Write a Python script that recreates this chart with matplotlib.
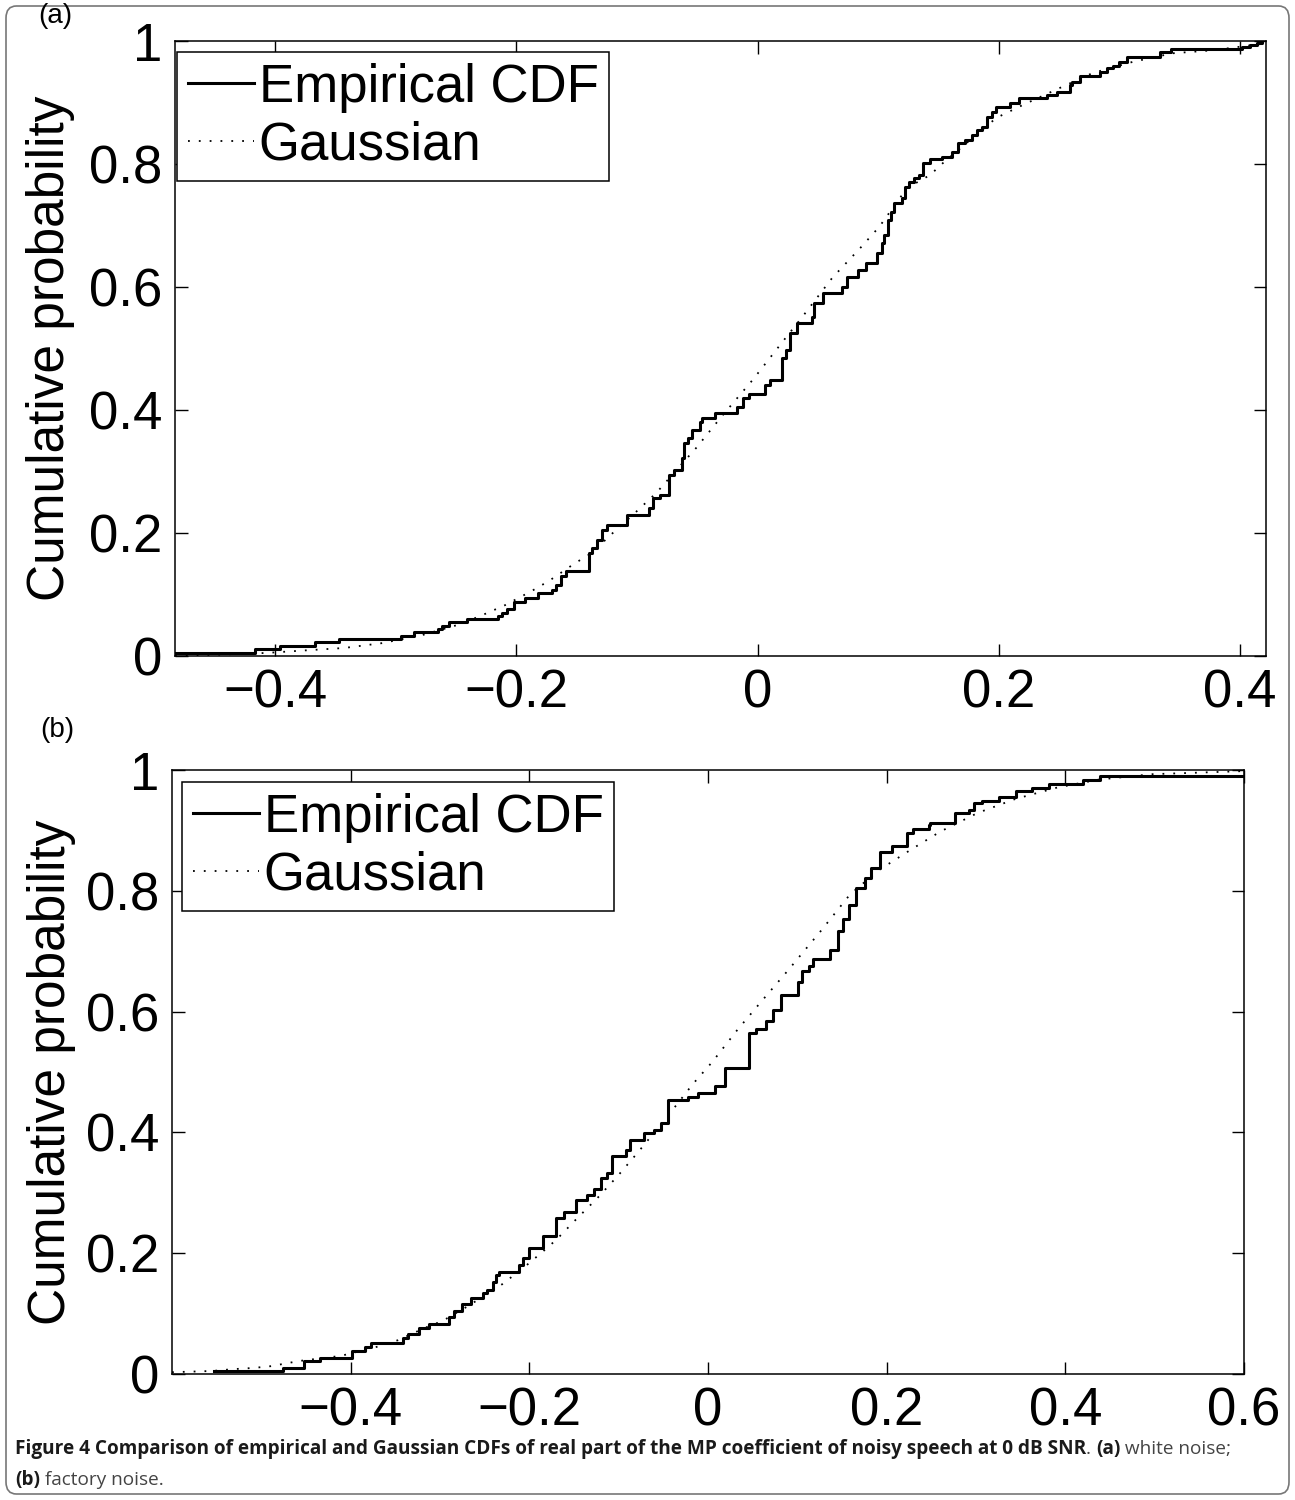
import matplotlib
matplotlib.use('Agg')
import matplotlib.pyplot as plt
from matplotlib import font_manager
from matplotlib.patches import FancyBboxPatch

# ---- panel (a): white noise ----
a_ecdf_x = [-0.483, -0.417, -0.396, -0.367, -0.347, -0.296, -0.285, -0.265, -0.262, -0.256,
            -0.241, -0.215, -0.212, -0.208, -0.202, -0.193, -0.182, -0.170, -0.167, -0.163,
            -0.159, -0.140, -0.137, -0.133, -0.129, -0.125, -0.108, -0.090, -0.087, -0.081,
            -0.073, -0.069, -0.063, -0.061, -0.058, -0.054, -0.048, -0.046, -0.035, -0.017,
            -0.012, -0.007, 0.006, 0.010, 0.020, 0.024, 0.027, 0.033, 0.045, 0.047,
            0.054, 0.070, 0.074, 0.083, 0.090, 0.099, 0.103, 0.105, 0.108, 0.111,
            0.113, 0.120, 0.122, 0.126, 0.130, 0.134, 0.137, 0.143, 0.153, 0.161,
            0.166, 0.172, 0.178, 0.182, 0.186, 0.190, 0.194, 0.198, 0.209, 0.217,
            0.240, 0.248, 0.259, 0.261, 0.267, 0.284, 0.290, 0.295, 0.300, 0.306,
            0.334, 0.343, 0.402, 0.408, 0.414, 0.418]
a_ecdf_y = [0.005, 0.011, 0.016, 0.022, 0.028, 0.033, 0.039, 0.044, 0.049, 0.055,
            0.060, 0.065, 0.070, 0.076, 0.088, 0.094, 0.102, 0.107, 0.115, 0.130,
            0.139, 0.168, 0.176, 0.189, 0.205, 0.213, 0.229, 0.241, 0.257, 0.262,
            0.294, 0.302, 0.322, 0.346, 0.354, 0.367, 0.380, 0.387, 0.395, 0.405,
            0.420, 0.426, 0.440, 0.449, 0.485, 0.497, 0.525, 0.541, 0.551, 0.574,
            0.590, 0.600, 0.616, 0.628, 0.639, 0.655, 0.672, 0.685, 0.709, 0.722,
            0.737, 0.745, 0.763, 0.771, 0.777, 0.782, 0.802, 0.808, 0.811, 0.820,
            0.834, 0.839, 0.847, 0.855, 0.860, 0.876, 0.884, 0.893, 0.899, 0.907,
            0.912, 0.917, 0.928, 0.933, 0.943, 0.950, 0.956, 0.959, 0.966, 0.974,
            0.982, 0.987, 0.990, 0.993, 0.997, 1.000]
a_gauss_x = [-0.483, -0.450, -0.407, -0.376, -0.343, -0.311, -0.278, -0.246, -0.224, -0.209,
             -0.187, -0.173, -0.152, -0.138, -0.120, -0.102, -0.084, -0.062, -0.051, -0.030,
             -0.004, 0.022, 0.037, 0.062, 0.085, 0.101, 0.124, 0.143, 0.154, 0.198,
             0.220, 0.251, 0.278, 0.311, 0.344, 0.378, 0.417]
a_gauss_y = [0.001, 0.002, 0.005, 0.009, 0.013, 0.021, 0.034, 0.052, 0.070, 0.083,
             0.106, 0.122, 0.150, 0.167, 0.200, 0.232, 0.265, 0.314, 0.338, 0.389,
             0.449, 0.514, 0.551, 0.615, 0.663, 0.698, 0.761, 0.782, 0.802, 0.875,
             0.896, 0.924, 0.948, 0.966, 0.980, 0.985, 0.995]

# ---- panel (b): factory noise ----
b_ecdf_x = [-0.553, -0.476, -0.452, -0.434, -0.399, -0.398, -0.384, -0.377, -0.341, -0.336,
            -0.323, -0.312, -0.290, -0.284, -0.275, -0.265, -0.252, -0.247, -0.241, -0.237,
            -0.234, -0.212, -0.207, -0.200, -0.185, -0.170, -0.161, -0.148, -0.135, -0.128,
            -0.120, -0.113, -0.107, -0.092, -0.087, -0.072, -0.061, -0.053, -0.045, -0.022,
            -0.011, 0.008, 0.019, 0.046, 0.054, 0.065, 0.073, 0.082, 0.101, 0.105,
            0.113, 0.118, 0.137, 0.145, 0.151, 0.158, 0.166, 0.176, 0.183, 0.193,
            0.206, 0.223, 0.229, 0.247, 0.249, 0.277, 0.292, 0.298, 0.307, 0.326,
            0.345, 0.363, 0.382, 0.420, 0.439, 0.650]
b_ecdf_y = [0.005, 0.010, 0.022, 0.027, 0.034, 0.038, 0.044, 0.051, 0.059, 0.066,
            0.076, 0.083, 0.095, 0.104, 0.116, 0.126, 0.134, 0.139, 0.153, 0.164,
            0.169, 0.180, 0.192, 0.209, 0.228, 0.258, 0.269, 0.288, 0.296, 0.306,
            0.324, 0.333, 0.361, 0.371, 0.387, 0.399, 0.404, 0.415, 0.454, 0.459,
            0.465, 0.476, 0.507, 0.564, 0.571, 0.584, 0.603, 0.628, 0.649, 0.667,
            0.675, 0.687, 0.702, 0.733, 0.753, 0.776, 0.804, 0.821, 0.838, 0.865,
            0.875, 0.895, 0.902, 0.909, 0.913, 0.929, 0.934, 0.946, 0.949, 0.956,
            0.966, 0.971, 0.977, 0.984, 0.990, 1.000]
b_gauss_x = [-0.600, -0.555, -0.532, -0.509, -0.489, -0.467, -0.455, -0.411, -0.368, -0.347,
             -0.316, -0.297, -0.268, -0.249, -0.230, -0.204, -0.187, -0.170, -0.147, -0.124,
             -0.101, -0.079, -0.044, -0.017, 0.005, 0.033, 0.061, 0.090, 0.104, 0.126,
             0.159, 0.191, 0.227, 0.260, 0.302, 0.344, 0.391, 0.437, 0.496, 0.596]
b_gauss_y = [0.003, 0.005, 0.008, 0.010, 0.013, 0.019, 0.022, 0.030, 0.046, 0.056,
             0.077, 0.088, 0.113, 0.131, 0.149, 0.179, 0.200, 0.222, 0.257, 0.291,
             0.328, 0.366, 0.429, 0.480, 0.517, 0.570, 0.619, 0.669, 0.694, 0.733,
             0.794, 0.834, 0.868, 0.898, 0.929, 0.952, 0.971, 0.984, 0.993, 0.998]

y_ticks = [0, 0.2, 0.4, 0.6, 0.8, 1]
y_tick_labels = ['0', '0.2', '0.4', '0.6', '0.8', '1']
a_x_ticks = [-0.4, -0.2, 0, 0.2, 0.4]
a_x_tick_labels = ['\u22120.4', '\u22120.2', '0', '0.2', '0.4']
b_x_ticks = [-0.4, -0.2, 0, 0.2, 0.4, 0.6]
b_x_tick_labels = ['\u22120.4', '\u22120.2', '0', '0.2', '0.4', '0.6']

names = {f.name for f in font_manager.fontManager.ttflist}
plot_font = 'Liberation Sans' if 'Liberation Sans' in names else 'DejaVu Sans'
cap_font = 'Liberation Sans Narrow' if 'Liberation Sans Narrow' in names else 'Open Sans'
plt.rcParams['font.family'] = [plot_font, 'DejaVu Sans']

fig = plt.figure(figsize=(12.95, 15), dpi=100)
W, H = 1295.0, 1500.0

# outer rounded frame
frame = FancyBboxPatch((6 / W, 6 / H), 1283 / W, 1488 / H, transform=fig.transFigure,
                       boxstyle='round,pad=0,rounding_size=0.008', fc='none', ec='#777777', lw=1.2)
fig.patches.append(frame)


def draw_panel(rect, ex, ey, gx, gy, xlim, xticks, xlabels, legend_anchor):
    ax = fig.add_axes(rect)
    ax.plot(ex, ey, color='black', lw=2.2, drawstyle='steps-post', label='Empirical CDF')
    ax.plot(gx, gy, color='black', lw=1.3, linestyle=(0, (1, 5)), label='Gaussian')
    ax.set_xlim(xlim)
    ax.set_ylim(0, 1)
    ax.set_xticks(xticks)
    ax.set_xticklabels(xlabels)
    ax.set_yticks(y_ticks)
    ax.set_yticklabels(y_tick_labels)
    ax.tick_params(direction='in', length=9, width=1.0, labelsize=38, top=True, right=True, pad=9)
    for s in ax.spines.values():
        s.set_linewidth(1.1)
    ax.set_ylabel('Cumulative probability', fontsize=37)
    leg = ax.legend(loc='upper left', bbox_to_anchor=legend_anchor, borderaxespad=0,
                    fontsize=38, frameon=True, fancybox=False, edgecolor='black',
                    handlelength=1.25, handletextpad=0.1, labelspacing=0.15, borderpad=0.2)
    leg.get_frame().set_linewidth(1.1)
    leg.get_frame().set_alpha(1)
    return ax


ax1 = draw_panel([175 / W, 1 - 656 / H, 1091 / W, 615 / H], a_ecdf_x, a_ecdf_y,
                 a_gauss_x, a_gauss_y, (-0.483, 0.4216), a_x_ticks, a_x_tick_labels,
                 (2 / 1091, 1 - 11 / 615))
ax1.yaxis.set_label_coords(-0.092, 0.5)

ax2 = draw_panel([172 / W, 1 - 1374 / H, 1072 / W, 604 / H], b_ecdf_x, b_ecdf_y,
                 b_gauss_x, b_gauss_y, (-0.6, 0.6), b_x_ticks, b_x_tick_labels,
                 (10 / 1072, 1 - 12 / 604))
ax2.yaxis.set_label_coords(-0.090, 0.5)

fig.text(55 / W, 1 - 16 / H, '(a)', fontsize=20, ha='center', va='center')
fig.text(57 / W, 1 - 730 / H, '(b)', fontsize=20, ha='center', va='center')

# caption, built from pieces so the bold and plain runs line up
renderer = fig.canvas.get_renderer()


def caption_line(pieces, x0, y0, size):
    x = x0
    for txt, bold, col in pieces:
        t = fig.text(x, y0, txt, fontsize=size, family=[cap_font, 'DejaVu Sans'],
                     fontweight='bold' if bold else 'normal', color=col, ha='left', va='baseline')
        bb = t.get_window_extent(renderer=renderer)
        x = bb.x1 / W


line1 = [('Figure 4 Comparison of empirical and Gaussian CDFs of real part of the MP coefficient '
          'of noisy speech at 0 dB SNR', True, '#1a1a1a'),
         ('. ', False, '#444444'), ('(a)', True, '#1a1a1a'), (' white noise;', False, '#444444')]
line2 = [('(b)', True, '#1a1a1a'), (' factory noise.', False, '#444444')]

# fit the bold run to the width used in the reference
size = 14
probe = fig.text(0, 0, line1[0][0], fontsize=size,
                 family=[cap_font, 'DejaVu Sans'], fontweight='bold')
w_bold = probe.get_window_extent(renderer=renderer).width
probe.remove()
size = size * (1075.0 / w_bold)

caption_line(line1, 15 / W, 1 - 1454 / H, size)
caption_line(line2, 15 / W, 1 - 1485 / H, size)

fig.savefig('out.png', dpi=100, facecolor='white')
